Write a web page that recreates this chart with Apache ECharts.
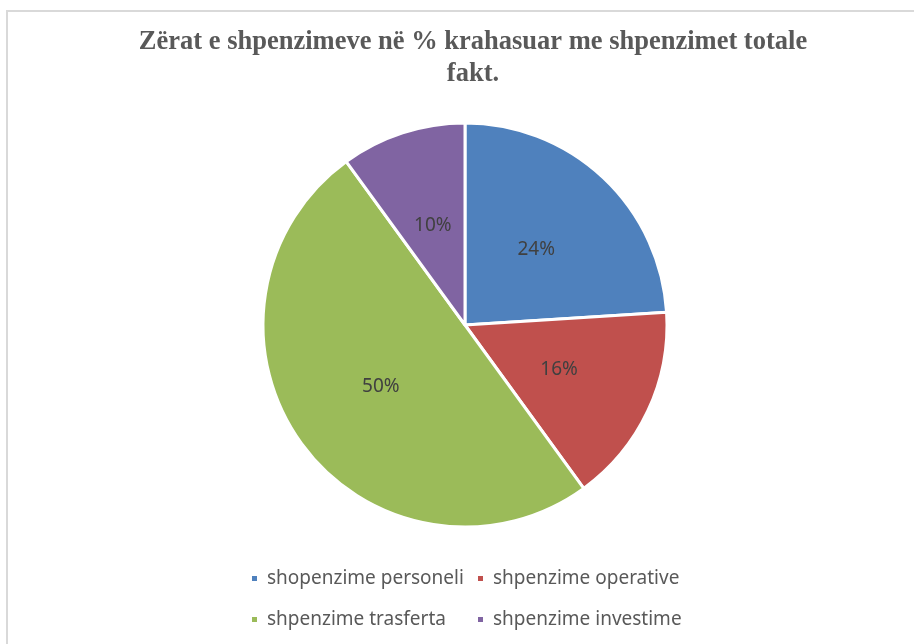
<!DOCTYPE html>
<html><head><meta charset="utf-8">
<script src="https://cdn.jsdelivr.net/npm/echarts@6/dist/echarts.min.js"></script>
<style>html,body{margin:0;padding:0;background:#fff}#c{width:914px;height:644px}</style>
</head><body><div id="c"></div>
<script>
const categories = ['shopenzime personeli','shpenzime operative','shpenzime trasferta','shpenzime investime'];
const values = [24, 16, 50, 10];
const colors = ['#4F81BD','#C0504D','#9BBB59','#8064A2'];
const titleLines = ['Zërat e shpenzimeve në % krahasuar me shpenzimet totale', 'fakt.'];

const chart = echarts.init(document.getElementById('c'));
const legendPos = [[250,568.5],[476,568.5],[250,609.5],[476,609.5]];
const legends = categories.map((name,i)=>({
  data:[name], left:legendPos[i][0], top:legendPos[i][1], orient:'horizontal', padding:0,
  itemWidth:7, itemHeight:7, itemGap:0, icon:'rect',
  textStyle:{color:'#595959', fontSize:19, lineHeight:20, fontFamily:'Noto Sans', padding:[0,0,0,4]},
  selectedMode:false
}));
const titles = titleLines.map((t,i)=>({
  text:t, left:473, top:[27,59][i], textAlign:'center', padding:0,
  textStyle:{fontFamily:'Liberation Serif', fontWeight:'bold', fontSize:26.5, color:'#595959', lineHeight:30}
}));
chart.setOption({
  animation:false,
  color: colors,
  graphic:[{type:'rect', shape:{x:7,y:11,width:920,height:650}, style:{fill:'none', stroke:'#d9d9d9', lineWidth:2}}],
  title: titles,
  legend: legends,
  series:[{
    type:'pie', center:[465,325], radius:[0,202], startAngle:90, clockwise:true,
    data: categories.map((n,i)=>({name:n, value:values[i]})),
    itemStyle:{borderColor:'#fff', borderWidth:3},
    label:{show:true, position:'inside', formatter:'{c}%', color:'#404040', fontSize:19, fontFamily:'Noto Sans'},
    labelLine:{show:false}, emphasis:{disabled:true}
  }]
});
</script></body></html>
